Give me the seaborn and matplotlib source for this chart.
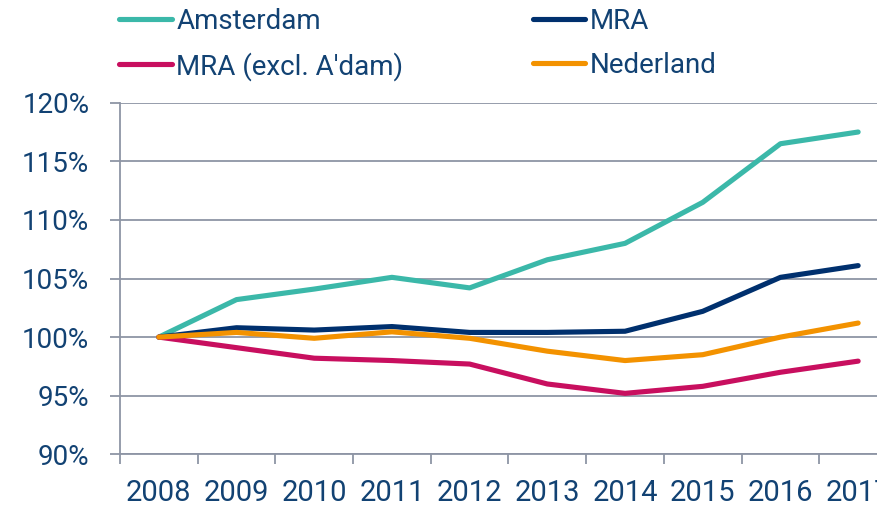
import seaborn as sns
import pandas as pd
import numpy as np
import matplotlib.pyplot as plt
from matplotlib.ticker import FixedLocator, FuncFormatter

years = list(range(2008, 2018))
amsterdam = [100, 103.2, 104.1, 105.1, 104.2, 106.6, 108.0, 111.5, 116.5, 117.5]
mra = [100, 100.8, 100.6, 100.9, 100.4, 100.4, 100.5, 102.2, 105.1, 106.1]
mra_excl = [100, 99.1, 98.2, 98.0, 97.7, 96.0, 95.2, 95.8, 97.0, 97.95]
nederland = [100, 100.4, 99.9, 100.45, 99.9, 98.8, 98.0, 98.5, 100.0, 101.2]

series = {
    "Amsterdam": amsterdam,
    "MRA": mra,
    "MRA (excl. A'dam)": mra_excl,
    "Nederland": nederland,
}
colors = {
    "Amsterdam": "#3BB8A9",
    "MRA": "#00306E",
    "MRA (excl. A'dam)": "#C80F5F",
    "Nederland": "#F39200",
}

rows = []
for name, vals in series.items():
    for y, v in zip(years, vals):
        rows.append({"Jaar": y, "Index": v, "Gebied": name})
data = pd.DataFrame(rows)

sns.set_style('white')
plt.rcParams['font.family'] = ['Roboto', 'DejaVu Sans']
txt = "#124273"
grid = "#8E95A5"

fig = plt.figure(figsize=(8.77, 5.08), dpi=100)
ax = fig.add_axes([0.1368, 0.1057, 0.886, 0.6921])

ax = sns.lineplot(data=data, x="Jaar", y="Index", hue="Gebied", palette=colors,
                  linewidth=3.7, ax=ax, legend=False, solid_capstyle='round')

ax.set_ylim(90, 120)
ax.set_xlim(2007.5, 2017.5)
ax.set_yticks(np.arange(90, 121, 5))
ax.yaxis.set_major_formatter(FuncFormatter(lambda v, p: f"{v:.0f}%"))
ax.yaxis.grid(True, color=grid, linewidth=1.3)
ax.set_axisbelow(True)

# tick marks on year boundaries, labels in the middle
ax.xaxis.set_major_locator(FixedLocator(np.arange(2007.5, 2018, 1)))
ax.xaxis.set_minor_locator(FixedLocator(years))
ax.xaxis.set_major_formatter(FuncFormatter(lambda v, p: ""))
ax.xaxis.set_minor_formatter(FuncFormatter(lambda v, p: f"{int(round(v))}"))
ax.tick_params(axis='x', which='major', length=7, width=1.3, color=grid, direction='out', bottom=True)
ax.tick_params(axis='x', which='minor', length=0, pad=18, labelsize=21, labelcolor=txt, bottom=True)
ax.tick_params(axis='y', length=7, width=1.3, color=grid, direction='out', left=True,
               labelsize=20, labelcolor=txt, pad=15)

for s in ['top', 'right']:
    ax.spines[s].set_visible(False)
for s in ['left', 'bottom']:
    ax.spines[s].set_color(grid)
    ax.spines[s].set_linewidth(1.3)

plt.xlabel("")
plt.ylabel("")

order = ["Amsterdam", "MRA (excl. A'dam)", "MRA", "Nederland"]
handles = [plt.Line2D([], [], color=colors[n], linewidth=3.7, solid_capstyle='round') for n in order]
fig.legend(handles, order, loc='upper left', bbox_to_anchor=(0.136, 0.984), ncol=2,
           frameon=False, fontsize=20, labelcolor=txt, handlelength=1.9,
           handletextpad=0.15, columnspacing=4.65, labelspacing=0.6, borderaxespad=0,
           borderpad=0)

fig.savefig("out.png", dpi=100)
